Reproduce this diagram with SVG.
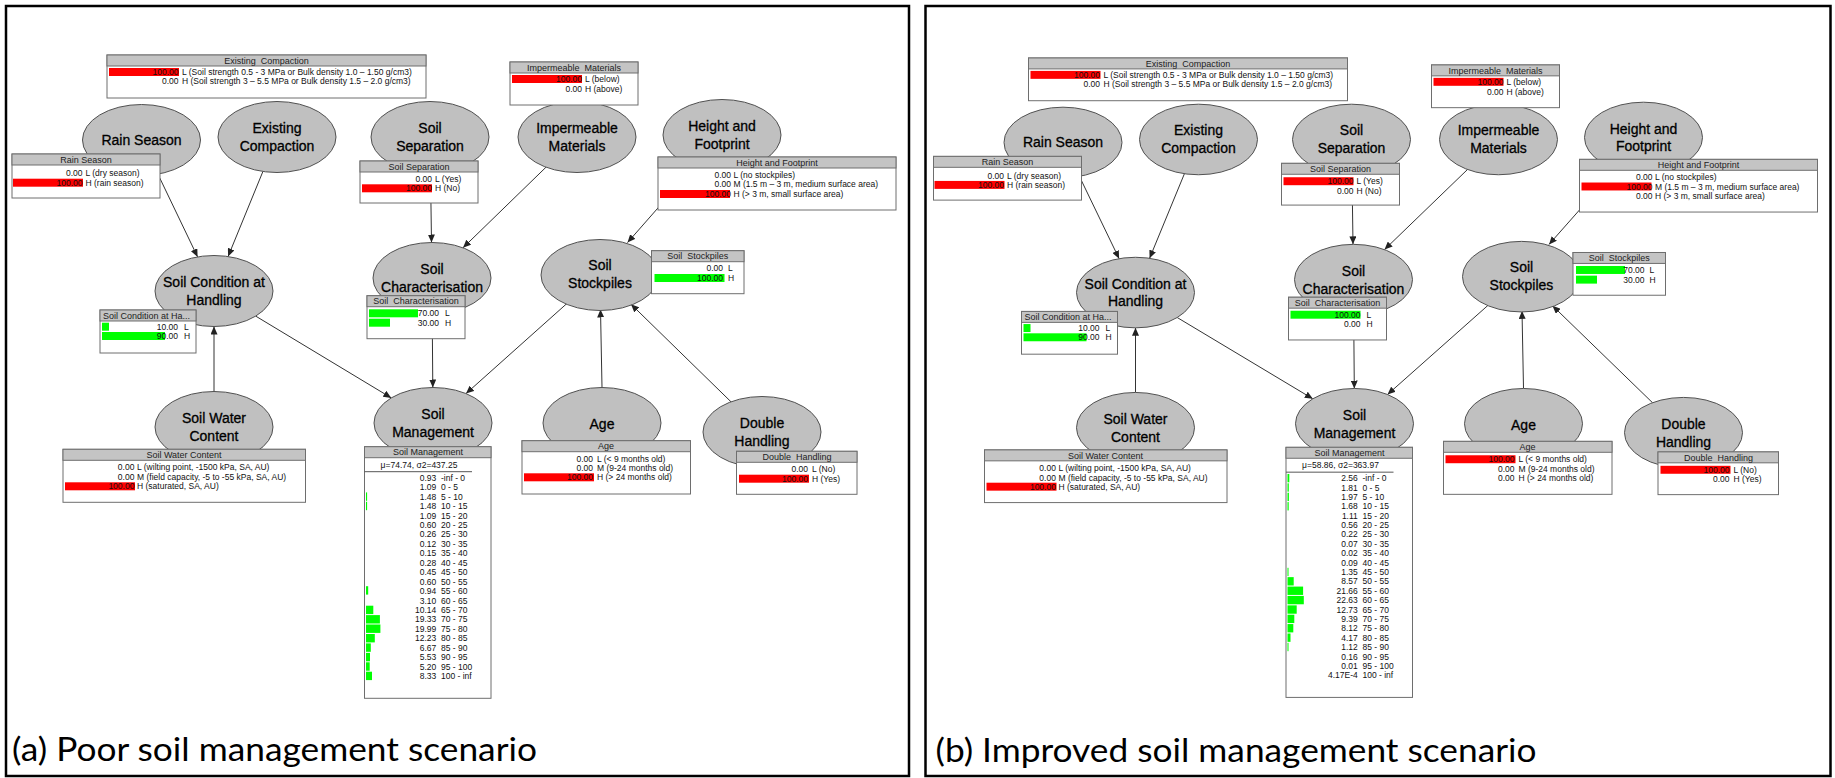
<svg xmlns="http://www.w3.org/2000/svg" width="1835" height="778" viewBox="0 0 1835 778">
<defs>
<style>
.frame{fill:none;stroke:#000;stroke-width:2.5}
.nd ellipse{fill:#c0c0c0;stroke:#505050;stroke-width:1}
.n{font-family:"Liberation Sans",Arial,sans-serif;font-size:14px;fill:#000;stroke:#000;stroke-width:0.3;text-anchor:middle}
.tb{fill:#fff;stroke:#6e6e6e;stroke-width:1}
.th{fill:#c4c4c4;stroke:#6e6e6e;stroke-width:1}
.ht{font-family:"Liberation Sans",Arial,sans-serif;font-size:9px;fill:#222;text-anchor:middle;white-space:pre}
.hl{font-family:"Liberation Sans",Arial,sans-serif;font-size:9px;fill:#222}
.v{font-family:"Liberation Sans",Arial,sans-serif;font-size:8.5px;fill:#111;text-anchor:end}
.s{font-family:"Liberation Sans",Arial,sans-serif;font-size:8.5px;fill:#111;white-space:pre}
.m{font-family:"Liberation Sans",Arial,sans-serif;font-size:8.5px;fill:#111;text-anchor:middle}
.sep{stroke:#555;stroke-width:1}
.r{fill:#ff0000}
.g{fill:#00ff00}
.conn line{stroke:#333;stroke-width:1;marker-end:url(#ah)}
.cap{font-family:Lato,"Open Sans",sans-serif;font-size:32px;fill:#000}
</style>
<marker id="ah" markerUnits="userSpaceOnUse" markerWidth="9" markerHeight="7" refX="8" refY="3.5" orient="auto"><path d="M0,0 L8,3.5 L0,7 z" fill="#222"/></marker>
</defs>
<rect width="1835" height="778" fill="#fff"/>
<rect class="frame" x="6" y="6" width="903" height="770"/>
<rect class="frame" x="925.5" y="6" width="905" height="770"/>

<!-- Scenario (a) -->
<g id="panel-a">
 <g id="a-connectors" class="conn">
  <line x1="157.9" y1="174.1" x2="197.6" y2="256.9"/>
  <line x1="262.9" y1="171.5" x2="228.1" y2="256.5"/>
  <line x1="430.5" y1="172.5" x2="431.5" y2="242.5"/>
  <line x1="546" y1="167.2" x2="463" y2="247.8"/>
  <line x1="694.5" y1="166.4" x2="627.5" y2="242.6"/>
  <line x1="255.7" y1="316.1" x2="391.3" y2="397.9"/>
  <line x1="432.2" y1="313.5" x2="432.8" y2="387.5"/>
  <line x1="567" y1="303.4" x2="466" y2="393.6"/>
  <line x1="214" y1="391.5" x2="214" y2="326.5"/>
  <line x1="602" y1="387.5" x2="600.5" y2="309.5"/>
  <line x1="731" y1="401.8" x2="631" y2="304.2"/>
 </g>
 <g id="a-existing-compaction" class="nd">
  <ellipse cx="277" cy="137" rx="59" ry="35.5"/>
  <text class="n" x="277" y="133">Existing</text><text class="n" x="277" y="151">Compaction</text>
  <rect class="tb" x="107" y="55" width="319" height="43"/><rect class="th" x="107" y="55" width="319" height="11"/>
  <text class="ht" x="266.5" y="63.7">Existing  Compaction</text>
  <rect class="r" x="109" y="68" width="70" height="8"/>
  <text class="v" x="178.5" y="75.1">100.00</text><text class="s" x="182" y="75.1">L (Soil strength 0.5 - 3 MPa or Bulk density 1.0 – 1.50 g/cm3)</text>
  <text class="v" x="178.5" y="84.4">0.00</text><text class="s" x="182" y="84.4">H (Soil strength 3 – 5.5 MPa or Bulk density 1.5 – 2.0 g/cm3)</text>
 </g>
 <g id="a-impermeable-materials" class="nd">
  <ellipse cx="577" cy="137" rx="59" ry="35.5"/>
  <text class="n" x="577" y="133">Impermeable</text><text class="n" x="577" y="151">Materials</text>
  <rect class="tb" x="510" y="62" width="128" height="43"/><rect class="th" x="510" y="62" width="128" height="11"/>
  <text class="ht" x="574" y="70.7">Impermeable  Materials</text>
  <rect class="r" x="512" y="75" width="70" height="8"/>
  <text class="v" x="582" y="82.1">100.00</text><text class="s" x="585" y="82.1">L (below)</text>
  <text class="v" x="582" y="91.8">0.00</text><text class="s" x="585" y="91.8">H (above)</text>
 </g>
 <g id="a-rain-season" class="nd">
  <ellipse cx="141.5" cy="140" rx="59" ry="35.5"/>
  <text class="n" x="141.5" y="145">Rain Season</text>
  <rect class="tb" x="12" y="154" width="148" height="44"/><rect class="th" x="12" y="154" width="148" height="11"/>
  <text class="ht" x="86" y="162.7">Rain Season</text>
  <text class="v" x="82.5" y="176.3">0.00</text><text class="s" x="85.5" y="176.3">L (dry season)</text>
  <rect class="r" x="13" y="178.7" width="70" height="8"/>
  <text class="v" x="82.5" y="185.7">100.00</text><text class="s" x="85.5" y="185.7">H (rain season)</text>
 </g>
 <g id="a-soil-separation" class="nd">
  <ellipse cx="430" cy="137" rx="59" ry="35.5"/>
  <text class="n" x="430" y="133">Soil</text><text class="n" x="430" y="151">Separation</text>
  <rect class="tb" x="360" y="161" width="118" height="42"/><rect class="th" x="360" y="161" width="118" height="11"/>
  <text class="ht" x="419" y="169.7">Soil Separation</text>
  <text class="v" x="432" y="182.1">0.00</text><text class="s" x="435" y="182.1">L (Yes)</text>
  <rect class="r" x="362" y="184.3" width="70" height="8"/>
  <text class="v" x="432" y="191.4">100.00</text><text class="s" x="435" y="191.4">H (No)</text>
 </g>
 <g id="a-height-footprint" class="nd">
  <ellipse cx="722" cy="135" rx="59" ry="35.5"/>
  <text class="n" x="722" y="131">Height and</text><text class="n" x="722" y="149">Footprint</text>
  <rect class="tb" x="658" y="157" width="238" height="53"/><rect class="th" x="658" y="157" width="238" height="11"/>
  <text class="ht" x="777" y="165.7">Height and Footprint</text>
  <text class="v" x="731" y="177.8">0.00</text><text class="s" x="733.5" y="177.8">L (no stockpiles)</text>
  <text class="v" x="731" y="187.4">0.00</text><text class="s" x="733.5" y="187.4">M (1.5 m – 3 m, medium surface area)</text>
  <rect class="r" x="660" y="190" width="70" height="8"/>
  <text class="v" x="731" y="197.1">100.00</text><text class="s" x="733.5" y="197.1">H (&gt; 3 m, small surface area)</text>
 </g>
 <g id="a-soil-condition" class="nd">
  <ellipse cx="214" cy="291" rx="59" ry="35.5"/>
  <text class="n" x="214" y="287">Soil Condition at</text><text class="n" x="214" y="305">Handling</text>
  <rect class="tb" x="100" y="310" width="96" height="43"/><rect class="th" x="100" y="310" width="96" height="11"/>
  <text class="hl" x="103" y="318.7">Soil Condition at Ha...</text>
  <rect class="g" x="102" y="322.7" width="7" height="8"/>
  <text class="v" x="178" y="329.8">10.00</text><text class="s" x="184" y="329.8">L</text>
  <rect class="g" x="102" y="332" width="63" height="8"/>
  <text class="v" x="178" y="339.1">90.00</text><text class="s" x="184" y="339.1">H</text>
 </g>
 <g id="a-soil-characterisation" class="nd">
  <ellipse cx="432" cy="278" rx="59" ry="35.5"/>
  <text class="n" x="432" y="274">Soil</text><text class="n" x="432" y="292">Characterisation</text>
  <rect class="tb" x="367" y="295.7" width="98" height="43"/><rect class="th" x="367" y="295.7" width="98" height="11"/>
  <text class="ht" x="416" y="304.4">Soil  Characterisation</text>
  <rect class="g" x="369" y="309.3" width="49" height="8"/>
  <text class="v" x="439" y="316.4">70.00</text><text class="s" x="445" y="316.4">L</text>
  <rect class="g" x="369" y="318.7" width="21" height="8"/>
  <text class="v" x="439" y="325.8">30.00</text><text class="s" x="445" y="325.8">H</text>
 </g>
 <g id="a-soil-stockpiles" class="nd">
  <ellipse cx="600" cy="275" rx="59" ry="35.5"/>
  <text class="n" x="600" y="270">Soil</text><text class="n" x="600" y="288">Stockpiles</text>
  <rect class="tb" x="651.5" y="250.7" width="92.5" height="43"/><rect class="th" x="651.5" y="250.7" width="92.5" height="11"/>
  <text class="ht" x="697.7" y="259.4">Soil  Stockpiles</text>
  <text class="v" x="723" y="271.4">0.00</text><text class="s" x="728" y="271.4">L</text>
  <rect class="g" x="654.5" y="274" width="70" height="8"/>
  <text class="v" x="723" y="281.1">100.00</text><text class="s" x="728" y="281.1">H</text>
 </g>
 <g id="a-soil-water-content" class="nd">
  <ellipse cx="214" cy="427" rx="59" ry="35.5"/>
  <text class="n" x="214" y="423">Soil Water</text><text class="n" x="214" y="441">Content</text>
  <rect class="tb" x="63" y="449.3" width="242.5" height="53"/><rect class="th" x="63" y="449.3" width="242.5" height="11"/>
  <text class="ht" x="184" y="458">Soil Water Content</text>
  <text class="v" x="134.4" y="470.4">0.00</text><text class="s" x="137" y="470.4">L (wilting point, -1500 kPa, SA, AU)</text>
  <text class="v" x="134.4" y="480.1">0.00</text><text class="s" x="137" y="480.1">M (field capacity, -5 to -55 kPa, SA, AU)</text>
  <rect class="r" x="65" y="482.3" width="70" height="8"/>
  <text class="v" x="134.4" y="489.4">100.00</text><text class="s" x="137" y="489.4">H (saturated, SA, AU)</text>
 </g>
 <g id="a-soil-management" class="nd">
  <ellipse cx="433" cy="423" rx="59" ry="35.5"/>
  <text class="n" x="433" y="419">Soil</text><text class="n" x="433" y="437">Management</text>
  <rect class="tb" x="364.5" y="446.7" width="126.5" height="251.6"/><rect class="th" x="364.5" y="446.7" width="126.5" height="11"/>
  <text class="ht" x="428" y="455.4">Soil Management</text>
  <text class="m" x="419" y="468">μ=74.74, σ2=437.25</text>
  <line class="sep" x1="364.5" y1="471.7" x2="472" y2="471.7"/>
  <g id="a-sm-bars">
   <rect class="g" x="366" y="492.4" width="1.1" height="8.4"/>
   <rect class="g" x="366" y="501.8" width="1.1" height="8.4"/>
   <rect class="g" x="366" y="586.2" width="2.2" height="8.4"/>
   <rect class="g" x="366" y="605.7" width="7.3" height="8.4"/>
   <rect class="g" x="366" y="615.1" width="13.9" height="8.4"/>
   <rect class="g" x="366" y="624.5" width="14.4" height="8.4"/>
   <rect class="g" x="366" y="634" width="8.8" height="8.4"/>
   <rect class="g" x="366" y="643.4" width="4.8" height="8.4"/>
   <rect class="g" x="366" y="652.9" width="4" height="8.4"/>
   <rect class="g" x="366" y="662.3" width="3.7" height="8.4"/>
   <rect class="g" x="366" y="671.7" width="6" height="8.4"/>
  </g>
  <text class="v" x="436.3" y="480.8">0.93</text><text class="s" x="441" y="480.8">-inf - 0</text>
  <text class="v" x="436.3" y="490.2">1.09</text><text class="s" x="441" y="490.2">0 - 5</text>
  <text class="v" x="436.3" y="499.7">1.48</text><text class="s" x="441" y="499.7">5 - 10</text>
  <text class="v" x="436.3" y="509.1">1.48</text><text class="s" x="441" y="509.1">10 - 15</text>
  <text class="v" x="436.3" y="518.6">1.09</text><text class="s" x="441" y="518.6">15 - 20</text>
  <text class="v" x="436.3" y="528">0.60</text><text class="s" x="441" y="528">20 - 25</text>
  <text class="v" x="436.3" y="537.4">0.26</text><text class="s" x="441" y="537.4">25 - 30</text>
  <text class="v" x="436.3" y="546.9">0.12</text><text class="s" x="441" y="546.9">30 - 35</text>
  <text class="v" x="436.3" y="556.3">0.15</text><text class="s" x="441" y="556.3">35 - 40</text>
  <text class="v" x="436.3" y="565.8">0.28</text><text class="s" x="441" y="565.8">40 - 45</text>
  <text class="v" x="436.3" y="575.2">0.45</text><text class="s" x="441" y="575.2">45 - 50</text>
  <text class="v" x="436.3" y="584.6">0.60</text><text class="s" x="441" y="584.6">50 - 55</text>
  <text class="v" x="436.3" y="594.1">0.94</text><text class="s" x="441" y="594.1">55 - 60</text>
  <text class="v" x="436.3" y="603.5">3.10</text><text class="s" x="441" y="603.5">60 - 65</text>
  <text class="v" x="436.3" y="613">10.14</text><text class="s" x="441" y="613">65 - 70</text>
  <text class="v" x="436.3" y="622.4">19.33</text><text class="s" x="441" y="622.4">70 - 75</text>
  <text class="v" x="436.3" y="631.8">19.99</text><text class="s" x="441" y="631.8">75 - 80</text>
  <text class="v" x="436.3" y="641.3">12.23</text><text class="s" x="441" y="641.3">80 - 85</text>
  <text class="v" x="436.3" y="650.7">6.67</text><text class="s" x="441" y="650.7">85 - 90</text>
  <text class="v" x="436.3" y="660.2">5.53</text><text class="s" x="441" y="660.2">90 - 95</text>
  <text class="v" x="436.3" y="669.6">5.20</text><text class="s" x="441" y="669.6">95 - 100</text>
  <text class="v" x="436.3" y="679">8.33</text><text class="s" x="441" y="679">100 - inf</text>
 </g>
 <g id="a-age" class="nd">
  <ellipse cx="602" cy="423" rx="59" ry="35.5"/>
  <text class="n" x="602" y="429">Age</text>
  <rect class="tb" x="522" y="440.7" width="168.5" height="53.3"/><rect class="th" x="522" y="440.7" width="168.5" height="11"/>
  <text class="ht" x="606" y="449.4">Age</text>
  <text class="v" x="593" y="461.8">0.00</text><text class="s" x="597" y="461.8">L (&lt; 9 months old)</text>
  <text class="v" x="593" y="471.1">0.00</text><text class="s" x="597" y="471.1">M (9-24 months old)</text>
  <rect class="r" x="524" y="473.3" width="70" height="8"/>
  <text class="v" x="593" y="480.4">100.00</text><text class="s" x="597" y="480.4">H (&gt; 24 months old)</text>
 </g>
 <g id="a-double-handling" class="nd">
  <ellipse cx="762" cy="432" rx="59" ry="35.5"/>
  <text class="n" x="762" y="428">Double</text><text class="n" x="762" y="446">Handling</text>
  <rect class="tb" x="736.5" y="451.3" width="120.5" height="43"/><rect class="th" x="736.5" y="451.3" width="120.5" height="11"/>
  <text class="ht" x="797" y="460">Double  Handling</text>
  <text class="v" x="808" y="472.4">0.00</text><text class="s" x="812" y="472.4">L (No)</text>
  <rect class="r" x="739" y="474.7" width="70" height="8"/>
  <text class="v" x="808" y="481.8">100.00</text><text class="s" x="812" y="481.8">H (Yes)</text>
 </g>
</g>

<!-- Scenario (b) -->
<g id="panel-b" transform="translate(921.5 3.3) scale(1 0.994)">
 <g id="b-connectors" class="conn">
  <line x1="157.9" y1="174.1" x2="197.6" y2="256.9"/>
  <line x1="262.9" y1="171.5" x2="228.1" y2="256.5"/>
  <line x1="430.5" y1="172.5" x2="431.5" y2="242.5"/>
  <line x1="546" y1="167.2" x2="463" y2="247.8"/>
  <line x1="694.5" y1="166.4" x2="627.5" y2="242.6"/>
  <line x1="255.7" y1="316.1" x2="391.3" y2="397.9"/>
  <line x1="432.2" y1="313.5" x2="432.8" y2="387.5"/>
  <line x1="567" y1="303.4" x2="466" y2="393.6"/>
  <line x1="214" y1="391.5" x2="214" y2="326.5"/>
  <line x1="602" y1="387.5" x2="600.5" y2="309.5"/>
  <line x1="731" y1="401.8" x2="631" y2="304.2"/>
 </g>
 <g id="b-existing-compaction" class="nd">
  <ellipse cx="277" cy="137" rx="59" ry="35.5"/>
  <text class="n" x="277" y="133">Existing</text><text class="n" x="277" y="151">Compaction</text>
  <rect class="tb" x="107" y="55" width="319" height="43"/><rect class="th" x="107" y="55" width="319" height="11"/>
  <text class="ht" x="266.5" y="63.7">Existing  Compaction</text>
  <rect class="r" x="109" y="68" width="70" height="8"/>
  <text class="v" x="178.5" y="75.1">100.00</text><text class="s" x="182" y="75.1">L (Soil strength 0.5 - 3 MPa or Bulk density 1.0 – 1.50 g/cm3)</text>
  <text class="v" x="178.5" y="84.4">0.00</text><text class="s" x="182" y="84.4">H (Soil strength 3 – 5.5 MPa or Bulk density 1.5 – 2.0 g/cm3)</text>
 </g>
 <g id="b-impermeable-materials" class="nd">
  <ellipse cx="577" cy="137" rx="59" ry="35.5"/>
  <text class="n" x="577" y="133">Impermeable</text><text class="n" x="577" y="151">Materials</text>
  <rect class="tb" x="510" y="62" width="128" height="43"/><rect class="th" x="510" y="62" width="128" height="11"/>
  <text class="ht" x="574" y="70.7">Impermeable  Materials</text>
  <rect class="r" x="512" y="75" width="70" height="8"/>
  <text class="v" x="582" y="82.1">100.00</text><text class="s" x="585" y="82.1">L (below)</text>
  <text class="v" x="582" y="91.8">0.00</text><text class="s" x="585" y="91.8">H (above)</text>
 </g>
 <g id="b-rain-season" class="nd">
  <ellipse cx="141.5" cy="140" rx="59" ry="35.5"/>
  <text class="n" x="141.5" y="145">Rain Season</text>
  <rect class="tb" x="12" y="154" width="148" height="44"/><rect class="th" x="12" y="154" width="148" height="11"/>
  <text class="ht" x="86" y="162.7">Rain Season</text>
  <text class="v" x="82.5" y="176.3">0.00</text><text class="s" x="85.5" y="176.3">L (dry season)</text>
  <rect class="r" x="13" y="178.7" width="70" height="8"/>
  <text class="v" x="82.5" y="185.7">100.00</text><text class="s" x="85.5" y="185.7">H (rain season)</text>
 </g>
 <g id="b-soil-separation" class="nd">
  <ellipse cx="430" cy="137" rx="59" ry="35.5"/>
  <text class="n" x="430" y="133">Soil</text><text class="n" x="430" y="151">Separation</text>
  <rect class="tb" x="360" y="161" width="118" height="42"/><rect class="th" x="360" y="161" width="118" height="11"/>
  <text class="ht" x="419" y="169.7">Soil Separation</text>
  <rect class="r" x="362" y="175" width="70" height="8"/>
  <text class="v" x="432" y="182.1">100.00</text><text class="s" x="435" y="182.1">L (Yes)</text>
  <text class="v" x="432" y="191.4">0.00</text><text class="s" x="435" y="191.4">H (No)</text>
 </g>
 <g id="b-height-footprint" class="nd">
  <ellipse cx="722" cy="135" rx="59" ry="35.5"/>
  <text class="n" x="722" y="131">Height and</text><text class="n" x="722" y="149">Footprint</text>
  <rect class="tb" x="658" y="157" width="238" height="53"/><rect class="th" x="658" y="157" width="238" height="11"/>
  <text class="ht" x="777" y="165.7">Height and Footprint</text>
  <text class="v" x="731" y="177.8">0.00</text><text class="s" x="733.5" y="177.8">L (no stockpiles)</text>
  <rect class="r" x="660" y="180.3" width="70" height="8"/>
  <text class="v" x="731" y="187.4">100.00</text><text class="s" x="733.5" y="187.4">M (1.5 m – 3 m, medium surface area)</text>
  <text class="v" x="731" y="197.1">0.00</text><text class="s" x="733.5" y="197.1">H (&gt; 3 m, small surface area)</text>
 </g>
 <g id="b-soil-condition" class="nd">
  <ellipse cx="214" cy="291" rx="59" ry="35.5"/>
  <text class="n" x="214" y="287">Soil Condition at</text><text class="n" x="214" y="305">Handling</text>
  <rect class="tb" x="100" y="310" width="96" height="43"/><rect class="th" x="100" y="310" width="96" height="11"/>
  <text class="hl" x="103" y="318.7">Soil Condition at Ha...</text>
  <rect class="g" x="102" y="322.7" width="7" height="8"/>
  <text class="v" x="178" y="329.8">10.00</text><text class="s" x="184" y="329.8">L</text>
  <rect class="g" x="102" y="332" width="63" height="8"/>
  <text class="v" x="178" y="339.1">90.00</text><text class="s" x="184" y="339.1">H</text>
 </g>
 <g id="b-soil-characterisation" class="nd">
  <ellipse cx="432" cy="278" rx="59" ry="35.5"/>
  <text class="n" x="432" y="274">Soil</text><text class="n" x="432" y="292">Characterisation</text>
  <rect class="tb" x="367" y="295.7" width="98" height="43"/><rect class="th" x="367" y="295.7" width="98" height="11"/>
  <text class="ht" x="416" y="304.4">Soil  Characterisation</text>
  <rect class="g" x="369" y="309.3" width="70" height="8"/>
  <text class="v" x="439" y="316.4">100.00</text><text class="s" x="445" y="316.4">L</text>
  <text class="v" x="439" y="325.8">0.00</text><text class="s" x="445" y="325.8">H</text>
 </g>
 <g id="b-soil-stockpiles" class="nd">
  <ellipse cx="600" cy="275" rx="59" ry="35.5"/>
  <text class="n" x="600" y="270">Soil</text><text class="n" x="600" y="288">Stockpiles</text>
  <rect class="tb" x="651.5" y="250.7" width="92.5" height="43"/><rect class="th" x="651.5" y="250.7" width="92.5" height="11"/>
  <text class="ht" x="697.7" y="259.4">Soil  Stockpiles</text>
  <rect class="g" x="654.5" y="264.3" width="49" height="8"/>
  <text class="v" x="723" y="271.4">70.00</text><text class="s" x="728" y="271.4">L</text>
  <rect class="g" x="654.5" y="274" width="21" height="8"/>
  <text class="v" x="723" y="281.1">30.00</text><text class="s" x="728" y="281.1">H</text>
 </g>
 <g id="b-soil-water-content" class="nd">
  <ellipse cx="214" cy="427" rx="59" ry="35.5"/>
  <text class="n" x="214" y="423">Soil Water</text><text class="n" x="214" y="441">Content</text>
  <rect class="tb" x="63" y="449.3" width="242.5" height="53"/><rect class="th" x="63" y="449.3" width="242.5" height="11"/>
  <text class="ht" x="184" y="458">Soil Water Content</text>
  <text class="v" x="134.4" y="470.4">0.00</text><text class="s" x="137" y="470.4">L (wilting point, -1500 kPa, SA, AU)</text>
  <text class="v" x="134.4" y="480.1">0.00</text><text class="s" x="137" y="480.1">M (field capacity, -5 to -55 kPa, SA, AU)</text>
  <rect class="r" x="65" y="482.3" width="70" height="8"/>
  <text class="v" x="134.4" y="489.4">100.00</text><text class="s" x="137" y="489.4">H (saturated, SA, AU)</text>
 </g>
 <g id="b-soil-management" class="nd">
  <ellipse cx="433" cy="423" rx="59" ry="35.5"/>
  <text class="n" x="433" y="419">Soil</text><text class="n" x="433" y="437">Management</text>
  <rect class="tb" x="364.5" y="446.7" width="126.5" height="251.6"/><rect class="th" x="364.5" y="446.7" width="126.5" height="11"/>
  <text class="ht" x="428" y="455.4">Soil Management</text>
  <text class="m" x="419" y="468">μ=58.86, σ2=363.97</text>
  <line class="sep" x1="364.5" y1="471.7" x2="472" y2="471.7"/>
  <g id="b-sm-bars">
   <rect class="g" x="366" y="473.5" width="1.8" height="8.4"/>
   <rect class="g" x="366" y="482.9" width="1.3" height="8.4"/>
   <rect class="g" x="366" y="492.4" width="1.4" height="8.4"/>
   <rect class="g" x="366" y="501.8" width="1.2" height="8.4"/>
   <rect class="g" x="366" y="567.9" width="1" height="8.4"/>
   <rect class="g" x="366" y="577.3" width="6.2" height="8.4"/>
   <rect class="g" x="366" y="586.8" width="15.6" height="8.4"/>
   <rect class="g" x="366" y="596.2" width="16.3" height="8.4"/>
   <rect class="g" x="366" y="605.7" width="9.2" height="8.4"/>
   <rect class="g" x="366" y="615.1" width="6.8" height="8.4"/>
   <rect class="g" x="366" y="624.5" width="5.8" height="8.4"/>
   <rect class="g" x="366" y="634" width="3" height="8.4"/>
   <rect class="g" x="366" y="643.4" width="1" height="8.4"/>
  </g>
  <text class="v" x="436.3" y="480.8">2.56</text><text class="s" x="441" y="480.8">-inf - 0</text>
  <text class="v" x="436.3" y="490.2">1.81</text><text class="s" x="441" y="490.2">0 - 5</text>
  <text class="v" x="436.3" y="499.7">1.97</text><text class="s" x="441" y="499.7">5 - 10</text>
  <text class="v" x="436.3" y="509.1">1.68</text><text class="s" x="441" y="509.1">10 - 15</text>
  <text class="v" x="436.3" y="518.6">1.11</text><text class="s" x="441" y="518.6">15 - 20</text>
  <text class="v" x="436.3" y="528">0.56</text><text class="s" x="441" y="528">20 - 25</text>
  <text class="v" x="436.3" y="537.4">0.22</text><text class="s" x="441" y="537.4">25 - 30</text>
  <text class="v" x="436.3" y="546.9">0.07</text><text class="s" x="441" y="546.9">30 - 35</text>
  <text class="v" x="436.3" y="556.3">0.02</text><text class="s" x="441" y="556.3">35 - 40</text>
  <text class="v" x="436.3" y="565.8">0.09</text><text class="s" x="441" y="565.8">40 - 45</text>
  <text class="v" x="436.3" y="575.2">1.35</text><text class="s" x="441" y="575.2">45 - 50</text>
  <text class="v" x="436.3" y="584.6">8.57</text><text class="s" x="441" y="584.6">50 - 55</text>
  <text class="v" x="436.3" y="594.1">21.66</text><text class="s" x="441" y="594.1">55 - 60</text>
  <text class="v" x="436.3" y="603.5">22.63</text><text class="s" x="441" y="603.5">60 - 65</text>
  <text class="v" x="436.3" y="613">12.73</text><text class="s" x="441" y="613">65 - 70</text>
  <text class="v" x="436.3" y="622.4">9.39</text><text class="s" x="441" y="622.4">70 - 75</text>
  <text class="v" x="436.3" y="631.8">8.12</text><text class="s" x="441" y="631.8">75 - 80</text>
  <text class="v" x="436.3" y="641.3">4.17</text><text class="s" x="441" y="641.3">80 - 85</text>
  <text class="v" x="436.3" y="650.7">1.12</text><text class="s" x="441" y="650.7">85 - 90</text>
  <text class="v" x="436.3" y="660.2">0.16</text><text class="s" x="441" y="660.2">90 - 95</text>
  <text class="v" x="436.3" y="669.6">0.01</text><text class="s" x="441" y="669.6">95 - 100</text>
  <text class="v" x="436.3" y="679">4.17E-4</text><text class="s" x="441" y="679">100 - inf</text>
 </g>
 <g id="b-age" class="nd">
  <ellipse cx="602" cy="423" rx="59" ry="35.5"/>
  <text class="n" x="602" y="429">Age</text>
  <rect class="tb" x="522" y="440.7" width="168.5" height="53.3"/><rect class="th" x="522" y="440.7" width="168.5" height="11"/>
  <text class="ht" x="606" y="449.4">Age</text>
  <rect class="r" x="524" y="454.7" width="70" height="8"/>
  <text class="v" x="593" y="461.8">100.00</text><text class="s" x="597" y="461.8">L (&lt; 9 months old)</text>
  <text class="v" x="593" y="471.1">0.00</text><text class="s" x="597" y="471.1">M (9-24 months old)</text>
  <text class="v" x="593" y="480.4">0.00</text><text class="s" x="597" y="480.4">H (&gt; 24 months old)</text>
 </g>
 <g id="b-double-handling" class="nd">
  <ellipse cx="762" cy="432" rx="59" ry="35.5"/>
  <text class="n" x="762" y="428">Double</text><text class="n" x="762" y="446">Handling</text>
  <rect class="tb" x="736.5" y="451.3" width="120.5" height="43"/><rect class="th" x="736.5" y="451.3" width="120.5" height="11"/>
  <text class="ht" x="797" y="460">Double  Handling</text>
  <rect class="r" x="739" y="465.3" width="70" height="8"/>
  <text class="v" x="808" y="472.4">100.00</text><text class="s" x="812" y="472.4">L (No)</text>
  <text class="v" x="808" y="481.8">0.00</text><text class="s" x="812" y="481.8">H (Yes)</text>
 </g>
</g>

<g id="captions">
 <text class="cap" x="12" y="761" textLength="525" lengthAdjust="spacingAndGlyphs">(a) Poor soil management scenario</text>
 <text class="cap" x="935.5" y="762" textLength="601" lengthAdjust="spacingAndGlyphs">(b) Improved soil management scenario</text>
</g>
</svg>
